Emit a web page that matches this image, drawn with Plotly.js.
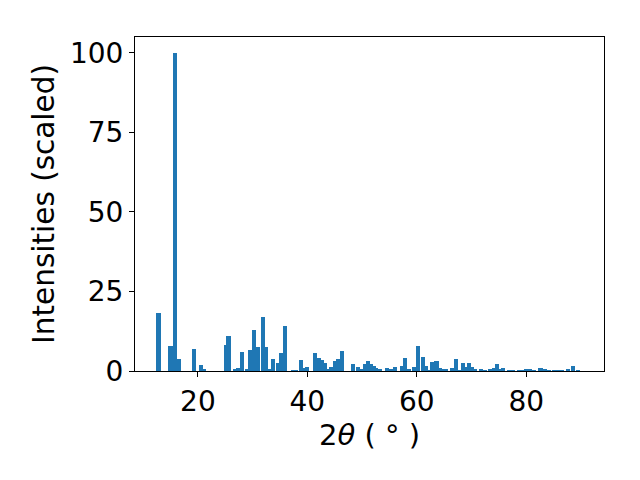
<!DOCTYPE html>
<html>
<head>
<meta charset="utf-8">
<script src="https://cdn.plot.ly/plotly-3.0.1.min.js"></script>
<style>html,body{margin:0;padding:0;background:#fff}</style>
</head>
<body>
<div id="chart" style="width:640px;height:480px"></div>
<script>
const twoTheta = [12.8,15.0,15.9,16.6,19.3,20.5,21.1,25.1,25.6,26.8,27.3,28.1,28.9,29.5,30.3,30.9,31.9,32.5,33.0,33.7,34.6,35.2,35.9,37.4,37.9,38.8,39.4,40.0,41.4,42.1,42.6,43.2,43.9,44.4,45.0,45.6,46.4,48.4,49.2,49.9,50.5,51.1,51.7,52.1,52.6,53.3,54.5,55.2,56.0,57.3,57.9,58.6,59.5,60.3,61.1,61.7,62.2,62.7,63.6,64.3,64.8,65.4,66.4,67.1,67.7,68.5,69.0,69.5,70.1,70.7,71.8,72.4,73.4,74.1,74.6,75.2,75.8,76.8,77.5,78.6,79.3,79.9,80.6,81.4,82.6,83.4,84.2,85.0,85.8,86.6,87.6,88.6,89.5];
const intensity = [18.2,7.9,100,3.8,6.9,1.9,0.6,8.2,11.0,0.6,0.9,6.0,0.6,6.6,12.9,7.5,17.0,7.5,0.6,3.8,2.5,5.7,14.1,0.3,0.4,3.5,1.0,1.3,5.8,4.1,3.5,2.5,0.6,1.3,3.1,3.8,6.3,2.2,1.3,0.6,2.2,3.1,2.2,1.6,0.9,0.6,0.9,0.6,1.3,1.6,4.1,0.6,1.3,7.9,4.4,1.6,0.3,2.8,3.1,0.9,0.6,0.6,0.9,3.8,0.3,2.5,1.3,2.5,1.3,0.6,0.6,0.3,0.6,0.9,2.2,0.6,0.9,0.3,0.3,0.3,0.3,0.6,0.6,0.3,0.9,0.6,0.3,0.3,0.3,0.3,0.6,1.6,0.3];
const xTicks = [20,40,60,80];
const yTicks = [0,25,50,75,100];

const fontFam = "DejaVu Sans, sans-serif";
Plotly.newPlot('chart', [{
  type: 'bar',
  x: twoTheta,
  y: intensity,
  width: 0.75,
  marker: {color: '#1f77b4', line: {width: 0}},
  hoverinfo: 'skip'
}], {
  width: 640, height: 480,
  paper_bgcolor: '#fff', plot_bgcolor: '#fff',
  margin: {l: 135, r: 36, t: 37, b: 109, pad: 0},
  showlegend: false,
  bargap: 0,
  font: {family: fontFam, size: 28, color: '#000'},
  xaxis: {
    range: [8.51, 94.21], tickvals: xTicks, ticktext: xTicks.map(String),
    ticks: 'outside', ticklen: 5, tickwidth: 1, tickcolor: '#000',
    showline: true, mirror: true, linecolor: '#000', linewidth: 1,
    showgrid: false, zeroline: false,
    tickfont: {family: fontFam, size: 28},
    title: {text: '2<i>θ</i> ( ° )', font: {family: fontFam, size: 29}, standoff: 4},
    automargin: false
  },
  yaxis: {
    range: [0, 105], tickvals: yTicks, ticktext: yTicks.map(String),
    ticks: 'outside', ticklen: 5, tickwidth: 1, tickcolor: '#000',
    showline: true, mirror: true, linecolor: '#000', linewidth: 1,
    showgrid: false, zeroline: false,
    tickfont: {family: fontFam, size: 28},
    title: {text: 'Intensities (scaled)', font: {family: fontFam, size: 29.5}, standoff: 6},
    automargin: false
  }
}, {staticPlot: true});
</script>
</body>
</html>
